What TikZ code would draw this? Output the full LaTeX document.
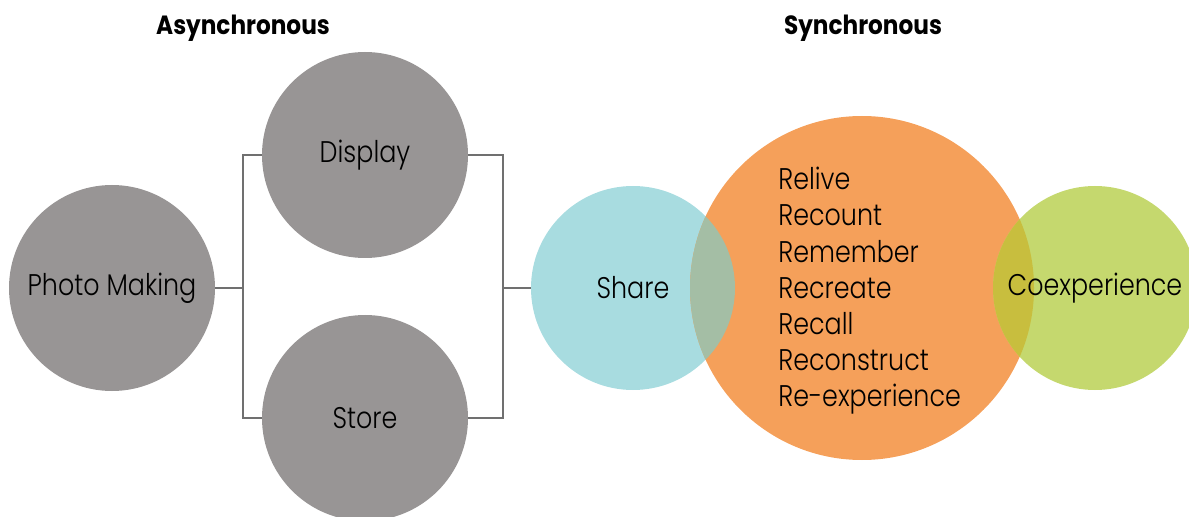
\documentclass[tikz,border=0pt]{standalone}
\usepackage{fontspec}
\setmainfont{Poppins Light}[FakeStretch=0.85]
\newfontfamily\headfont{Poppins Bold}[FakeStretch=0.88]
\definecolor{stone}{RGB}{152,149,149}
\definecolor{wire}{RGB}{112,112,112}
\definecolor{aqua}{RGB}{168,220,224}
\definecolor{peach}{RGB}{245,160,90}
\definecolor{lime}{RGB}{197,216,110}
\definecolor{sage}{RGB}{164,190,165}
\definecolor{olive}{RGB}{200,190,62}

\begin{document}
\begin{tikzpicture}[
  blob/.style={circle,inner sep=0pt,minimum size=#1},
  grey/.style={blob=4.12cm,fill=stone,font=\fontsize{17}{20}\selectfont},
  link/.style={draw=wire,line width=0.9pt},
  head/.style={font=\headfont\fontsize{15}{17}\selectfont}
]
\useasboundingbox (0,0) rectangle (23.78,-10.34);

% asynchronous part
\node[grey] (photo) at (2.24,-5.76) {Photo Making};
\node[grey] (display) at (7.3,-3.1) {Display};
\node[grey] (store) at (7.3,-8.36) {Store};
\coordinate (lj) at (4.86,-5.76);
\coordinate (rj) at (10.06,-5.76);

% synchronous part
\node[blob=4.08cm,fill=aqua] (share) at (12.66,-5.76) {};
\node[blob=6.88cm,fill=peach] (recall) at (17.24,-5.76) {};
\node[blob=4.08cm,fill=lime] (coexp) at (21.9,-5.76) {};
\begin{scope}
\clip (12.66,-5.76) circle (2.04);
\fill[sage] (17.24,-5.76) circle (3.44);
\end{scope}
\begin{scope}
\clip (21.9,-5.76) circle (2.04);
\fill[olive] (17.24,-5.76) circle (3.44);
\end{scope}

\node[font=\fontsize{17}{20}\selectfont] (sharetext) at (share) {Share};
\node[font=\fontsize{17}{20}\selectfont] (coexptext) at (coexp) {Coexperience};
\node[anchor=west,align=left,inner sep=0pt,font=\fontsize{17}{20.6}\selectfont] (verbs) at (15.56,-5.82)
  {Relive\\Recount\\Remember\\Recreate\\Recall\\Reconstruct\\Re-experience};

% connectors
\draw[link] (display.west) -| (lj) |- (store.west);
\draw[link] (photo.east) -- (lj);
\draw[link] (display.east) -| (rj) |- (store.east);
\draw[link] (rj) -- (share.west);

% titles
\node[head] (async) at (4.86,-0.56) {Asynchronous};
\node[head] (sync) at (17.26,-0.56) {Synchronous};
\end{tikzpicture}
\end{document}
